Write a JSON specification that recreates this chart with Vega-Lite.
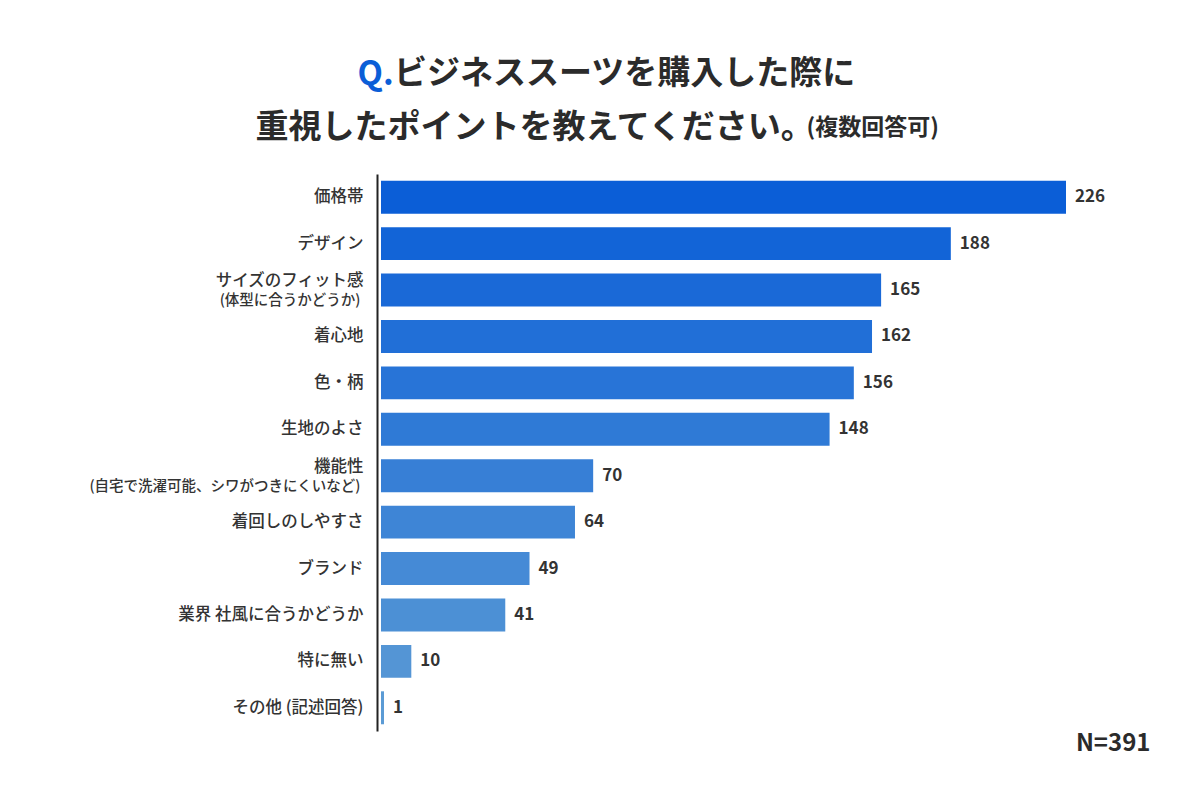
{
  "$schema": "https://vega.github.io/schema/vega-lite/v6.json",
  "width": 685,
  "height": 557,
  "autosize": {"type": "none"},
  "padding": {"left": 381, "top": 174, "right": 134, "bottom": 69},
  "background": "white",
  "config": {"view": {"stroke": null}, "font": "Noto Sans CJK JP"},
  "title": {
    "text": "ビジネススーツを購入した際に",
    "anchor": "start",
    "frame": "group",
    "dx": 13,
    "dy": 33,
    "offset": 0,
    "fontSize": 33,
    "fontWeight": "bold",
    "color": "#2b2b2b"
  },
  "data": {
    "values": [
      {"item": "価格帯", "count": 226},
      {"item": "デザイン", "count": 188},
      {"item": "サイズのフィット感\n(体型に合うかどうか)", "count": 165},
      {"item": "着心地", "count": 162},
      {"item": "色・柄", "count": 156},
      {"item": "生地のよさ", "count": 148},
      {"item": "機能性\n(自宅で洗濯可能、シワがつきにくいなど)", "count": 70},
      {"item": "着回しのしやすさ", "count": 64},
      {"item": "ブランド", "count": 49},
      {"item": "業界 社風に合うかどうか", "count": 41},
      {"item": "特に無い", "count": 10},
      {"item": "その他 (記述回答)", "count": 1}
    ]
  },
  "layer": [
    {
      "mark": {"type": "bar"},
      "encoding": {
        "x": {
          "field": "count",
          "type": "quantitative",
          "scale": {"domain": [0, 226], "nice": false},
          "axis": {
            "orient": "bottom",
            "labels": false,
            "ticks": false,
            "domain": false,
            "grid": false,
            "title": "N=391",
            "titleX": 769,
            "titleY": 19,
            "titleAlign": "right",
            "titleBaseline": "alphabetic",
            "titleFontSize": 24,
            "titleFontWeight": "bold",
            "titleColor": "#2b2b2b"
          }
        },
        "y": {
          "field": "item",
          "type": "nominal",
          "sort": null,
          "scale": {"paddingInner": 0.29, "paddingOuter": 0.145},
          "axis": {
            "orient": "left",
            "offset": 4,
            "domainColor": "#222222",
            "domainWidth": 2,
            "ticks": false,
            "grid": false,
            "labelPadding": 14,
            "labelFontSize": 16.5,
            "labelFontWeight": 500,
            "labelColor": "#333333",
            "labelLimit": 400,
            "labelExpr": "split(datum.label, '\\n')[0]",
            "labelOffset": {"condition": {"test": "indexof(datum.value, '\\n') >= 0", "value": -9}, "value": 0},
            "title": "Q.",
            "titleAngle": 0,
            "titleX": -20,
            "titleY": -90,
            "titleAlign": "left",
            "titleBaseline": "alphabetic",
            "titleFontSize": 33,
            "titleFontWeight": "bold",
            "titleColor": "#0B5ED7"
          }
        },
        "color": {
          "field": "item",
          "type": "nominal",
          "legend": null,
          "scale": {
            "domain": ["価格帯", "デザイン", "サイズのフィット感\n(体型に合うかどうか)", "着心地", "色・柄", "生地のよさ", "機能性\n(自宅で洗濯可能、シワがつきにくいなど)", "着回しのしやすさ", "ブランド", "業界 社風に合うかどうか", "特に無い", "その他 (記述回答)"],
            "range": ["#0B5ED7", "#1264D7", "#1A69D7", "#216FD7", "#2874D7", "#2F7AD6", "#377FD6", "#3E85D6", "#458AD6", "#4C90D5", "#5495D5", "#5B9BD5"]
          }
        }
      }
    },
    {
      "mark": {"type": "text", "align": "left", "baseline": "middle", "dx": 9, "fontSize": 17, "fontWeight": "bold", "color": "#333333"},
      "encoding": {
        "x": {
          "field": "count",
          "type": "quantitative",
          "scale": {"domain": [0, 226], "nice": false},
          "axis": {
            "orient": "top",
            "labels": false,
            "ticks": false,
            "domain": false,
            "grid": false,
            "title": "重視したポイントを教えてください。",
            "titleX": -126,
            "titleY": -37,
            "titleAlign": "left",
            "titleBaseline": "alphabetic",
            "titleFontSize": 33,
            "titleFontWeight": "bold",
            "titleColor": "#2b2b2b"
          }
        },
        "y": {
          "field": "item",
          "type": "nominal",
          "sort": null,
          "axis": {
            "orient": "right",
            "labels": true,
            "ticks": false,
            "domain": false,
            "grid": false,
            "labelExpr": "indexof(datum.label, '\\n') >= 0 ? split(datum.label, '\\n')[1] : ''",
            "labelAlign": "right",
            "labelPadding": -706,
            "labelOffset": 11,
            "labelFontSize": 14.5,
            "labelFontWeight": 500,
            "labelColor": "#333333",
            "labelLimit": 400,
            "title": "(複数回答可)",
            "titleAngle": 0,
            "titleX": -260,
            "titleY": -40,
            "titleAlign": "left",
            "titleBaseline": "alphabetic",
            "titleFontSize": 23,
            "titleFontWeight": "bold",
            "titleColor": "#2b2b2b"
          }
        },
        "text": {"field": "count", "type": "quantitative"}
      }
    }
  ],
  "resolve": {"axis": {"x": "independent", "y": "independent"}}
}
